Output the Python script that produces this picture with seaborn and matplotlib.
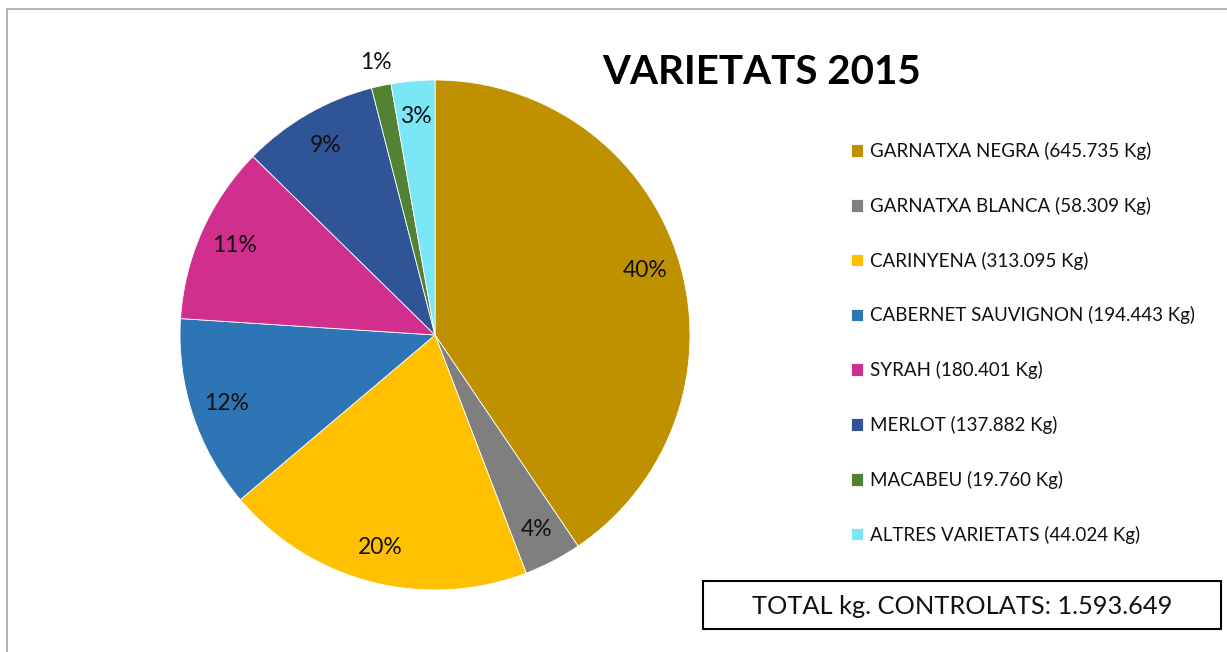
import matplotlib
matplotlib.use("Agg")
import matplotlib.pyplot as plt
import seaborn as sns
from matplotlib.patches import Rectangle

varietats = ["GARNATXA NEGRA", "GARNATXA BLANCA", "CARINYENA", "CABERNET SAUVIGNON",
             "SYRAH", "MERLOT", "MACABEU", "ALTRES VARIETATS"]
kg = [645735, 58309, 313095, 194443, 180401, 137882, 19760, 44024]
kg_labels = ["645.735", "58.309", "313.095", "194.443", "180.401", "137.882", "19.760", "44.024"]
pct_labels = ["40%", "4%", "20%", "12%", "11%", "9%", "1%", "3%"]
colors = ["#BF9000", "#7F7F7F", "#FFC000", "#2E75B6", "#D02F8E", "#2F5597", "#548235", "#7BE6F6"]
title = "VARIETATS 2015"
total_text = "TOTAL kg. CONTROLATS: 1.593.649"

sns.set_theme(style="white")
plt.rcParams["font.family"] = ["Lato", "DejaVu Sans"]

W, H = 1227, 652
fig = plt.figure(figsize=(W / 100, H / 100), dpi=100)

# pie centre ~ (435, 335) px, radius ~255 px
cx, cy, r = 435, 335, 255
ax = fig.add_axes([(cx - r) / W, (H - cy - r) / H, 2 * r / W, 2 * r / H])

wedges, texts, autotexts = ax.pie(
    kg, colors=colors, startangle=90, counterclock=False,
    autopct="%1.0f%%", pctdistance=0.86,
    wedgeprops=dict(edgecolor="white", linewidth=0.6),
    textprops=dict(fontsize=16.5, color="#111111"),
)
for t, lab in zip(autotexts, pct_labels):
    t.set_text(lab)
# small slice label sits outside
x, y = autotexts[6].get_position()
autotexts[6].set_position((x * 1.27, y * 1.27))
ax.set_xlim(-1, 1)
ax.set_ylim(-1, 1)
ax.set_aspect("equal")

fig.text(762 / W, 1 - 72 / H, title, fontsize=29, fontweight="bold",
         ha="center", va="center", color="black")

labels = [f"{v} ({k} Kg)" for v, k in zip(varietats, kg_labels)]
leg = fig.legend(wedges, labels, loc="upper left", bbox_to_anchor=(851 / W, 1 - 142 / H),
                 frameon=False, fontsize=13.5, handlelength=0.65, handleheight=0.65,
                 handletextpad=0.35, labelspacing=1.96, borderpad=0, borderaxespad=0)
for t in leg.get_texts():
    t.set_color("#111111")

# total box
fig.patches.append(Rectangle((703 / W, 1 - 629 / H), (1221 - 703) / W, (629 - 581) / H,
                             transform=fig.transFigure, fill=False, edgecolor="black",
                             linewidth=1.5))
fig.text(962 / W, 1 - 606 / H, total_text, fontsize=18.3, ha="center", va="center",
         color="#111111")

# chart area border
fig.patches.append(Rectangle((7 / W, -0.05), 1.1, 1 - 9 / H + 0.05,
                             transform=fig.transFigure, fill=False, edgecolor="#a6a6a6",
                             linewidth=1.2))

fig.savefig("out.png", dpi=100)
